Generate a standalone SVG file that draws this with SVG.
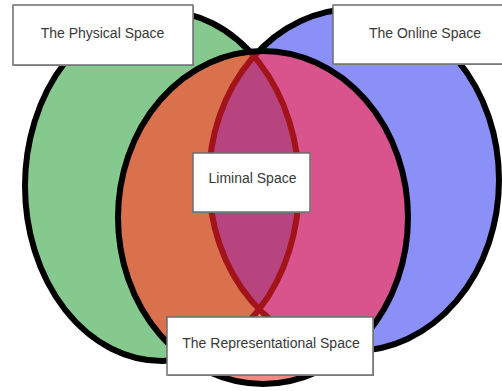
<svg xmlns="http://www.w3.org/2000/svg" width="502" height="391" viewBox="0 0 502 391">
<style>
.box{fill:#ffffff;stroke:#6e6e6e;stroke-width:1.5}
.shadow{fill:#9a9a9a}
.lbl{font-family:"Liberation Sans",Arial,sans-serif;font-size:14px;fill:#383838;text-anchor:middle}
.ol{fill:none;stroke:#000;stroke-width:6}
.inl{fill:none;stroke:#a3131a;stroke-width:6}
</style>
<defs>
<ellipse id="eG" cx="162" cy="186" rx="137" ry="175"/>
<ellipse id="eB" cx="354" cy="180" rx="145" ry="171"/>
<ellipse id="eF" cx="263" cy="217.5" rx="145" ry="166.5"/>
<clipPath id="cG"><use href="#eG"/></clipPath>
<clipPath id="cB"><use href="#eB"/></clipPath>
<clipPath id="cF"><use href="#eF"/></clipPath>
</defs>
<rect width="502" height="391" fill="#ffffff"/>
<g id="physical-space-circle">
<use href="#eG" fill="#86c98e"/>
</g>
<g id="online-space-circle">
<use href="#eB" fill="#8b90f8"/>
<g clip-path="url(#cG)"><use href="#eB" fill="#8b90f8"/></g>
</g>
<g id="circle-outlines">
<use href="#eG" class="ol"/>
<use href="#eB" class="ol"/>
</g>
<g id="representational-space-circle">
<g clip-path="url(#cF)">
<use href="#eF" fill="#f08a82"/>
<use href="#eG" fill="#d8714c"/>
<use href="#eB" fill="#d9538c"/>
<g clip-path="url(#cG)"><use href="#eB" fill="#b8447f"/></g>
<use href="#eG" class="inl"/>
<use href="#eB" class="inl"/>
</g>
<use href="#eF" class="ol"/>
</g>
<g id="physical-space-label">
<rect class="shadow" x="14" y="6" width="180" height="60"/>
<rect class="box" x="13" y="5" width="180" height="60"/>
<text class="lbl" x="102.5" y="37.5">The Physical Space</text>
</g>
<g id="online-space-label">
<rect class="shadow" x="334" y="6" width="175" height="59"/>
<rect class="box" x="333" y="5" width="175" height="59"/>
<text class="lbl" x="425" y="37.5">The Online Space</text>
</g>
<g id="liminal-space-label">
<rect class="shadow" x="194" y="154" width="117" height="59"/>
<rect class="box" x="193" y="153" width="117" height="59"/>
<text class="lbl" x="252.5" y="183">Liminal Space</text>
</g>
<g id="representational-space-label">
<rect class="shadow" x="168" y="318" width="206" height="58"/>
<rect class="box" x="167" y="317" width="206" height="58"/>
<text class="lbl" x="271" y="348">The Representational Space</text>
</g>
</svg>
